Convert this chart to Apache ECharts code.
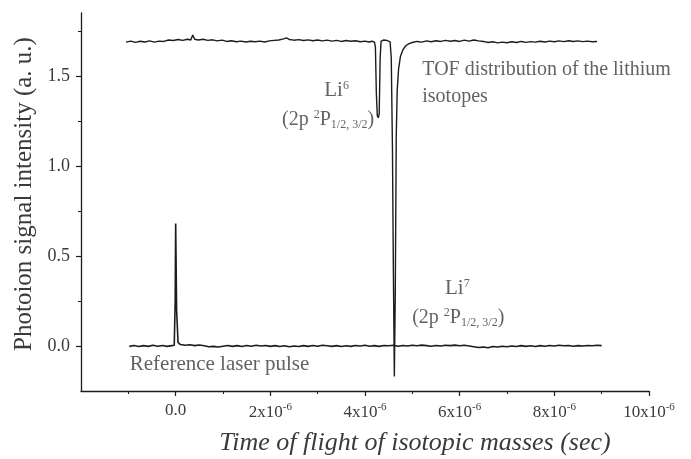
<!DOCTYPE html>
<html>
<head>
<meta charset="utf-8">
<title>TOF distribution of the lithium isotopes</title>
<script src="https://cdn.jsdelivr.net/npm/echarts@6/dist/echarts.min.js"></script>
<style>
  html, body { margin: 0; padding: 0; background: #fff; }
  #chart { width: 691px; height: 459px; }
</style>
</head>
<body>
<div id="chart"></div>
<script>
// Times of flight are stored in microseconds (x10^-6 s).
const xMajorTicks = [0, 2, 4, 6, 8, 10];
const xMinorTicks = [-1, 1, 3, 5, 7, 9];
const yMajorTicks = [0, 0.5, 1.0, 1.5];
const yMinorTicks = [0.25, 0.75, 1.25, 1.75];

// Upper trace: photoion signal showing the Li6 and Li7 dips.
const upperTime = [
  -1.05, -0.95, -0.85, -0.75, -0.65, -0.55, -0.45, -0.35, -0.25, -0.15,
  -0.05, 0.05, 0.15, 0.25, 0.32, 0.36, 0.40, 0.48, 0.58, 0.68,
  0.78, 0.88, 0.98, 1.08, 1.18, 1.28, 1.38, 1.48, 1.58, 1.68,
  1.78, 1.88, 1.98, 2.08, 2.18, 2.28, 2.34, 2.40, 2.50, 2.60,
  2.70, 2.80, 2.90, 3.00, 3.10, 3.20, 3.30, 3.40, 3.50, 3.60,
  3.70, 3.80, 3.90, 4.00, 4.08, 4.15, 4.20, 4.22, 4.24, 4.26,
  4.28, 4.30, 4.32, 4.34, 4.37, 4.40, 4.43, 4.46, 4.50, 4.53,
  4.555, 4.58, 4.60, 4.62, 4.64, 4.66, 4.68, 4.71, 4.75, 4.80,
  4.86, 4.93, 5.00, 5.10, 5.20, 5.30, 5.40, 5.50, 5.60, 5.70,
  5.80, 5.90, 6.00, 6.10, 6.20, 6.30, 6.40, 6.50, 6.60, 6.70,
  6.80, 6.90, 7.00, 7.10, 7.20, 7.30, 7.40, 7.50, 7.60, 7.70,
  7.80, 7.90, 8.00, 8.10, 8.20, 8.30, 8.40, 8.50, 8.60, 8.70,
  8.80, 8.90
];
const upperSignal = [
  1.688, 1.694, 1.687, 1.693, 1.689, 1.695, 1.688, 1.694, 1.692, 1.700,
  1.697, 1.703, 1.698, 1.704, 1.700, 1.728, 1.704, 1.700, 1.704, 1.698,
  1.701, 1.695, 1.699, 1.692, 1.696, 1.690, 1.694, 1.689, 1.693, 1.690,
  1.694, 1.689, 1.695, 1.698, 1.700, 1.706, 1.712, 1.703, 1.699, 1.702,
  1.697, 1.701, 1.696, 1.700, 1.695, 1.699, 1.694, 1.698, 1.692, 1.697,
  1.693, 1.696, 1.690, 1.694, 1.689, 1.693, 1.688, 1.660, 1.400, 1.280,
  1.268, 1.290, 1.600, 1.694, 1.704, 1.700, 1.706, 1.698, 1.702, 1.690,
  1.600, 1.100, 0.400, -0.170, 0.300, 1.160, 1.420, 1.540, 1.610, 1.645,
  1.668, 1.680, 1.686, 1.692, 1.688, 1.695, 1.690, 1.696, 1.692, 1.698,
  1.693, 1.697, 1.692, 1.699, 1.694, 1.700, 1.695, 1.692, 1.686, 1.690,
  1.684, 1.688, 1.685, 1.690, 1.686, 1.692, 1.687, 1.691, 1.688, 1.693,
  1.689, 1.694, 1.690, 1.695, 1.691, 1.696, 1.692, 1.695, 1.691, 1.694,
  1.690, 1.692
];

// Lower trace: reference laser pulse at t = 0.
const lowerTime = [
  -0.98, -0.88, -0.78, -0.68, -0.58, -0.48, -0.38, -0.28, -0.18, -0.08,
  -0.03, -0.01, 0.00, 0.02, 0.05, 0.10, 0.20, 0.30, 0.40, 0.50,
  0.60, 0.70, 0.80, 0.90, 1.00, 1.10, 1.20, 1.30, 1.40, 1.50,
  1.60, 1.70, 1.80, 1.90, 2.00, 2.10, 2.20, 2.30, 2.40, 2.50,
  2.60, 2.70, 2.80, 2.90, 3.00, 3.10, 3.20, 3.30, 3.40, 3.50,
  3.60, 3.70, 3.80, 3.90, 4.00, 4.10, 4.20, 4.30, 4.40, 4.50,
  4.60, 4.70, 4.80, 4.90, 5.00, 5.10, 5.20, 5.30, 5.40, 5.50,
  5.60, 5.70, 5.80, 5.90, 6.00, 6.10, 6.20, 6.30, 6.40, 6.50,
  6.60, 6.70, 6.80, 6.90, 7.00, 7.10, 7.20, 7.30, 7.40, 7.50,
  7.60, 7.70, 7.80, 7.90, 8.00, 8.10, 8.20, 8.30, 8.40, 8.50,
  8.60, 8.70, 8.80, 8.90, 9.00
];
const lowerSignal = [
  -0.002, 0.003, -0.003, 0.002, -0.002, 0.004, -0.001, 0.003, -0.002, 0.002,
  0.004, 0.250, 0.680, 0.200, 0.020, 0.008, 0.004, 0.007, 0.002, 0.006,
  0.001, -0.004, -0.002, -0.006, -0.001, 0.003, -0.002, 0.002, -0.003, 0.003,
  -0.001, 0.004, 0.000, 0.003, -0.002, 0.002, -0.003, 0.001, -0.004, 0.000,
  -0.003, 0.002, -0.002, 0.003, -0.001, 0.004, 0.001, -0.002, 0.002, -0.003,
  0.001, -0.002, 0.003, 0.000, 0.004, -0.001, 0.002, -0.002, 0.003, 0.001,
  0.004, -0.001, 0.003, 0.000, 0.004, 0.001, 0.005, 0.002, -0.001, 0.003,
  0.000, 0.004, 0.002, 0.005, 0.001, 0.004, 0.000, -0.004, -0.008, -0.006,
  -0.010, -0.003, -0.006, -0.001, -0.004, 0.000, -0.003, 0.002, -0.002, 0.001,
  -0.003, 0.002, -0.001, 0.003, 0.000, 0.004, 0.001, 0.003, -0.001, 0.002,
  0.000, 0.003, 0.001, 0.004, 0.002
];

// Text annotations, anchored in data coordinates (µs, a.u.).
const notes = [
  { name: 'li6', at: [3.40, 1.42], text: 'Li{sup|6}', align: 'center', size: 21 },
  { name: 'li6state', at: [3.22, 1.255], text: '(2p {sup|2}P{sub|1/2, 3/2})', align: 'center', size: 20 },
  { name: 'tof1', at: [5.21, 1.535], text: 'TOF distribution of the lithium', align: 'left', size: 20 },
  { name: 'tof2', at: [5.21, 1.385], text: 'isotopes', align: 'left', size: 20 },
  { name: 'li7', at: [5.95, 0.32], text: 'Li{sup|7}', align: 'center', size: 21 },
  { name: 'li7state', at: [5.97, 0.155], text: '(2p {sup|2}P{sub|1/2, 3/2})', align: 'center', size: 20 },
  { name: 'ref', at: [-0.97, -0.105], text: 'Reference laser pulse', align: 'left', size: 21 }
];

const zip = (xs, ys) => xs.map((x, i) => [x, ys[i]]);
const ink = '#1c1c1c';
const textInk = '#3a3a3a';
const serif = '"Liberation Serif", "DejaVu Serif", serif';

const xFmt = v => {
  const n = Math.round(v);
  return n === 0 ? '0.0' : n + 'x10{sup|-6}';
};

const chart = echarts.init(document.getElementById('chart'), null, { renderer: 'canvas' });

const baseX = {
  type: 'value', min: -2, max: 10, gridIndex: 0, position: 'bottom',
  splitLine: { show: false }
};
const baseY = {
  type: 'value', min: -0.25, max: 1.85, gridIndex: 0, position: 'left',
  splitLine: { show: false }
};

chart.setOption({
  animation: false,
  backgroundColor: '#fff',
  grid: { left: 81, right: 42, top: 13, bottom: 68, containLabel: false, outerBoundsMode: 'none' },
  xAxis: [
    Object.assign({}, baseX, {
      axisLine: { show: true, onZero: false, lineStyle: { color: ink, width: 1.3 } },
      axisTick: { show: true, customValues: xMajorTicks, length: 5, inside: false, lineStyle: { color: ink, width: 1.2 } },
      axisLabel: {
        customValues: xMajorTicks, formatter: xFmt, margin: 11,
        color: textInk, fontFamily: serif, fontSize: 17,
        rich: { sup: { fontSize: 11, fontFamily: serif, color: textInk, verticalAlign: 'top', padding: [0, 0, 10, 0] } }
      },
      name: 'Time of flight of isotopic masses (sec)',
      nameLocation: 'middle', nameGap: 39,
      nameTextStyle: { fontFamily: serif, fontStyle: 'italic', fontSize: 26, color: textInk, padding: [0, 0, 0, 100] }
    }),
    Object.assign({}, baseX, {
      axisLine: { show: false, onZero: false },
      axisTick: { show: true, customValues: xMinorTicks, length: 3, lineStyle: { color: ink, width: 1 } },
      axisLabel: { show: false }
    })
  ],
  yAxis: [
    Object.assign({}, baseY, {
      axisLine: { show: true, onZero: false, lineStyle: { color: ink, width: 1.3 } },
      axisTick: { show: true, customValues: yMajorTicks, length: 5, lineStyle: { color: ink, width: 1.2 } },
      axisLabel: {
        customValues: yMajorTicks, formatter: v => v.toFixed(1), margin: 11,
        color: textInk, fontFamily: serif, fontSize: 18
      },
      name: 'Photoion signal intensity (a. u.)',
      nameLocation: 'middle', nameGap: 39, nameRotate: 90,
      nameTextStyle: { fontFamily: serif, fontSize: 25, color: textInk, padding: [0, 0, 0, 16] }
    }),
    Object.assign({}, baseY, {
      axisLine: { show: false, onZero: false },
      axisTick: { show: true, customValues: yMinorTicks, length: 3, lineStyle: { color: ink, width: 1 } },
      axisLabel: { show: false }
    })
  ],
  series: [
    {
      name: 'TOF distribution', type: 'line', xAxisIndex: 0, yAxisIndex: 0,
      data: zip(upperTime, upperSignal), showSymbol: false, smooth: false,
      lineStyle: { color: ink, width: 1.4 }
    },
    {
      name: 'Reference laser pulse', type: 'line', xAxisIndex: 0, yAxisIndex: 0,
      data: zip(lowerTime, lowerSignal), showSymbol: false, smooth: false,
      lineStyle: { color: ink, width: 1.6 }
    },
    {
      name: 'notes', type: 'scatter', xAxisIndex: 0, yAxisIndex: 0,
      symbolSize: 0, silent: true,
      data: notes.map(n => ({
        name: n.name, value: n.at,
        label: {
          show: true, position: 'inside', formatter: n.text,
          align: n.align, verticalAlign: 'middle',
          fontFamily: serif, fontSize: n.size,
          color: textInk,
          rich: {
            sup: { fontSize: 12, fontFamily: serif, color: textInk, verticalAlign: 'top', padding: [0, 0, 10, 0] },
            sub: { fontSize: 12, fontFamily: serif, color: textInk, verticalAlign: 'bottom', padding: [8, 0, 0, 0] }
          }
        }
      }))
    }
  ]
});
</script>
</body>
</html>
